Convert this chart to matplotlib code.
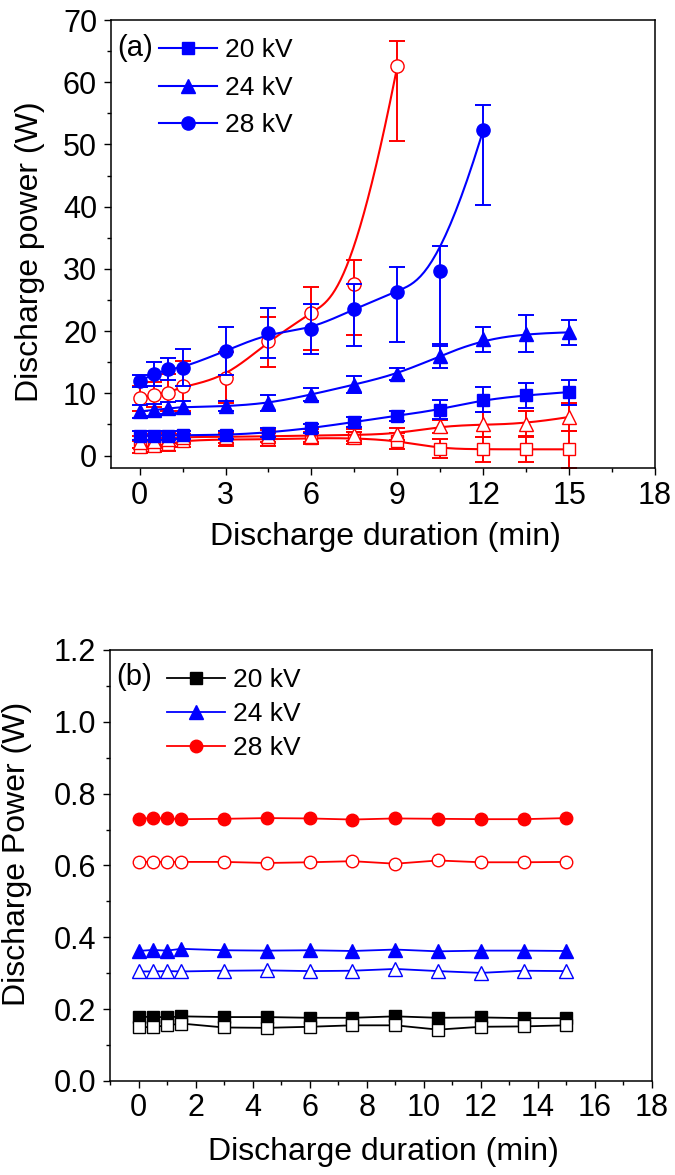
import numpy as np
import matplotlib
matplotlib.use("Agg")
import matplotlib.pyplot as plt
from matplotlib.lines import Line2D
from matplotlib.ticker import MultipleLocator, FormatStrFormatter

plt.rcParams['font.family'] = ['Liberation Sans', 'DejaVu Sans']

# ---------------- data: panel (a) ----------------
t_a = [0, 0.5, 1, 1.5, 3, 4.5, 6, 7.5, 9, 10.5, 12, 13.5, 15]
t_a_28 = [0, 0.5, 1, 1.5, 3, 4.5, 6, 7.5, 9, 10.5, 12]
t_a_28o = [0, 0.5, 1, 1.5, 3, 4.5, 6, 7.5, 9]

a_20_fill = [3.2, 3.2, 3.2, 3.3, 3.3, 3.7, 4.4, 5.4, 6.4, 7.4, 9.0, 9.7, 10.2]
a_20_fill_err = [0.7, 0.7, 0.7, 0.7, 0.7, 0.7, 0.7, 0.8, 0.8, 1.5, 2.0, 2.0, 2.0]
a_24_fill = [7.1, 7.3, 7.6, 7.8, 7.9, 8.4, 9.8, 11.4, 13.1, 16.0, 18.7, 19.6, 19.8]
a_24_fill_err = [1.0, 1.0, 1.0, 1.0, 0.8, 1.3, 1.0, 1.4, 1.0, 2.0, 2.0, 3.0, 2.0]
a_28_fill = [12.0, 13.1, 13.9, 14.1, 16.8, 19.7, 20.3, 23.6, 26.3, 29.6, 52.3]
a_28_fill_lo = [1.0, 2.0, 1.8, 3.0, 3.9, 4.0, 4.0, 6.0, 8.0, 12.0, 12.0]
a_28_fill_hi = [1.0, 2.0, 1.8, 3.0, 3.9, 4.0, 4.0, 4.0, 4.0, 4.0, 4.0]

a_20_open = [1.4, 1.5, 1.8, 2.4, 2.6, 2.6, 2.8, 2.8, 2.4, 1.1, 1.0, 1.0, 1.0]
a_20_open_err = [1.0, 1.0, 1.0, 1.0, 1.0, 1.0, 1.0, 1.0, 1.3, 1.5, 2.0, 2.0, 3.0]
a_24_open = [2.2, 2.4, 2.6, 3.0, 3.0, 3.1, 3.2, 3.3, 3.5, 4.7, 5.0, 5.1, 6.2]
a_24_open_err = [1.0, 1.0, 1.0, 1.0, 1.0, 1.0, 1.0, 1.0, 1.0, 1.0, 2.0, 2.0, 2.2]
a_28_open = [9.2, 9.8, 10.1, 11.1, 12.5, 18.4, 22.9, 27.5, 62.6]
a_28_open_lo = [2.0, 2.0, 3.0, 4.0, 4.0, 4.2, 5.9, 8.1, 12.0]
a_28_open_hi = [2.0, 2.0, 3.0, 4.1, 4.2, 3.9, 4.2, 3.9, 4.0]

# ---------------- data: panel (b) ----------------
t_b = [0, 0.5, 1, 1.5, 3, 4.5, 6, 7.5, 9, 10.5, 12, 13.5, 15]
b_20_fill = [0.178, 0.179, 0.177, 0.180, 0.178, 0.178, 0.176, 0.176, 0.180, 0.176, 0.177, 0.175, 0.175]
b_20_open = [0.150, 0.150, 0.155, 0.160, 0.149, 0.148, 0.151, 0.155, 0.155, 0.143, 0.151, 0.152, 0.155]
b_24_fill = [0.362, 0.365, 0.363, 0.368, 0.364, 0.363, 0.364, 0.362, 0.366, 0.361, 0.363, 0.363, 0.362]
b_24_open = [0.305, 0.305, 0.306, 0.305, 0.307, 0.308, 0.306, 0.307, 0.312, 0.306, 0.301, 0.307, 0.306]
b_28_fill = [0.730, 0.732, 0.731, 0.729, 0.730, 0.732, 0.731, 0.728, 0.731, 0.730, 0.729, 0.729, 0.732]
b_28_open = [0.610, 0.610, 0.610, 0.610, 0.610, 0.607, 0.609, 0.612, 0.605, 0.614, 0.609, 0.609, 0.610]

legend_labels = ['20 kV', '24 kV', '28 kV']
xticks_a = [0, 3, 6, 9, 12, 15, 18]
xticks_b = [0, 2, 4, 6, 8, 10, 12, 14, 16, 18]

BLUE = '#0000FF'
RED = '#FF0000'
BLACK = '#000000'


def bspline(x, y, n=300, k=3):
    """Clamped uniform B-spline using the data points as control points."""
    P = np.column_stack([x, y]).astype(float)
    m = len(P)
    k = min(k, m - 1)
    knots = np.concatenate([np.zeros(k), np.linspace(0, 1, m - k + 1), np.ones(k)])
    t = np.linspace(0, 1, n)
    N = np.zeros((n, len(knots) - 1))
    for i in range(len(knots) - 1):
        N[:, i] = (knots[i] <= t) & (t < knots[i + 1])
    N[t >= 1.0, m - 1] = 1.0
    for d in range(1, k + 1):
        Nn = np.zeros((n, len(knots) - 1 - d))
        for i in range(len(knots) - 1 - d):
            den1 = knots[i + d] - knots[i]
            den2 = knots[i + d + 1] - knots[i + 1]
            a = (t - knots[i]) / den1 * N[:, i] if den1 > 0 else 0
            b = (knots[i + d + 1] - t) / den2 * N[:, i + 1] if den2 > 0 else 0
            Nn[:, i] = a + b
        N = Nn
    C = N @ P
    return C[:, 0], C[:, 1]


fig = plt.figure(figsize=(6.75, 11.75), dpi=100)
W, H = 675.0, 1175.0


def style_axes(ax, tick_fs):
    for s in ax.spines.values():
        s.set_linewidth(1.1)
    ax.tick_params(which='both', direction='out', top=False, right=False,
                   labelsize=tick_fs, width=1.0)
    ax.tick_params(axis='x', which='both', pad=4)
    ax.tick_params(axis='y', which='both', pad=5)
    ax.tick_params(which='major', length=5)
    ax.tick_params(which='minor', length=3)


# ================= panel (a) =================
axa = fig.add_axes([111 / W, 1 - 468 / H, (655 - 111) / W, (468 - 20) / H])
axa.set_xlim(-1, 18)
axa.set_ylim(-2, 70)

series_a = [
    (t_a, a_20_fill, [a_20_fill_err, a_20_fill_err], 's', BLUE, BLUE, 8),
    (t_a, a_24_fill, [a_24_fill_err, a_24_fill_err], '^', BLUE, BLUE, 9.5),
    (t_a_28, a_28_fill, [a_28_fill_lo, a_28_fill_hi], 'o', BLUE, BLUE, 9.5),
    (t_a, a_20_open, [a_20_open_err, a_20_open_err], 's', RED, 'white', 8),
    (t_a, a_24_open, [a_24_open_err, a_24_open_err], '^', RED, 'white', 9.5),
    (t_a_28o, a_28_open, [a_28_open_lo, a_28_open_hi], 'o', RED, 'white', 9.5),
]
for order, (x, y, err, mk, col, face, ms) in enumerate(series_a[3:] + series_a[:3]):
    z = 2 + order
    axa.errorbar(x, y, yerr=err, fmt='none', ecolor=col, elinewidth=1.4,
                 capsize=5.5, capthick=1.4, zorder=z)
    bx, by = bspline(x, y)
    axa.plot(bx, by, '-', color=col, lw=1.5, zorder=z)
    axa.plot(x, y, linestyle='none', marker=mk, markersize=ms,
             markerfacecolor=face, markeredgecolor=col, markeredgewidth=1.0,
             zorder=z + 0.5)

axa.set_xticks(xticks_a)
axa.xaxis.set_minor_locator(MultipleLocator(1.5))
axa.yaxis.set_major_locator(MultipleLocator(10))
axa.yaxis.set_minor_locator(MultipleLocator(5))
style_axes(axa, 22)
axa.set_xlabel('Discharge duration (min)', fontsize=23)
axa.set_ylabel('Discharge power (W)', fontsize=23)
axa.xaxis.set_label_coords(0.5046, -0.1205)
axa.yaxis.set_label_coords(-0.121, 0.482)

handles_a = [Line2D([], [], color=BLUE, lw=1.5, marker=m, markersize=ms,
                    markerfacecolor=BLUE, markeredgecolor=BLUE)
             for m, ms in [('s', 8), ('^', 9.5), ('o', 9.5)]]
axa.legend(handles_a, legend_labels, loc='upper left',
           bbox_to_anchor=(0.088, 0.959), frameon=False, fontsize=19,
           handlelength=2.2, handletextpad=0.3, labelspacing=0.51,
           borderpad=0, borderaxespad=0)
axa.text(0.011, 0.937, '(a)', transform=axa.transAxes, fontsize=21,
         ha='left', va='center')

# ================= panel (b) =================
axb = fig.add_axes([110 / W, 1 - 1081 / H, (652 - 110) / W, (1081 - 650) / H])
axb.set_xlim(-1, 18)
axb.set_ylim(0, 1.2)

series_b = [
    (b_20_fill, 's', BLACK, BLACK, 8),
    (b_20_open, 's', BLACK, 'white', 8),
    (b_24_fill, '^', BLUE, BLUE, 9.5),
    (b_24_open, '^', BLUE, 'white', 9.5),
    (b_28_fill, 'o', RED, RED, 9),
    (b_28_open, 'o', RED, 'white', 9),
]
for y, mk, col, face, ms in series_b:
    axb.plot(t_b, y, '-', color=col, lw=1.3, marker=mk, markersize=ms,
             markerfacecolor=face, markeredgecolor=col, markeredgewidth=1.0)

axb.set_xticks(xticks_b)
axb.xaxis.set_minor_locator(MultipleLocator(1))
axb.yaxis.set_major_locator(MultipleLocator(0.2))
axb.yaxis.set_minor_locator(MultipleLocator(0.1))
axb.yaxis.set_major_formatter(FormatStrFormatter('%.1f'))
style_axes(axb, 22)
axb.set_xlabel('Discharge duration (min)', fontsize=23)
axb.set_ylabel('Discharge Power (W)', fontsize=23)
axb.xaxis.set_label_coords(0.504, -0.13)
axb.yaxis.set_label_coords(-0.144, 0.527)

handles_b = [Line2D([], [], color=c, lw=1.3, marker=m, markersize=ms,
                    markerfacecolor=c, markeredgecolor=c)
             for m, c, ms in [('s', BLACK, 8), ('^', BLUE, 9.5), ('o', RED, 9)]]
axb.legend(handles_b, legend_labels, loc='upper left',
           bbox_to_anchor=(0.105, 0.9587), frameon=False, fontsize=19,
           handlelength=2.2, handletextpad=0.3, labelspacing=0.39,
           borderpad=0, borderaxespad=0)
axb.text(0.012, 0.937, '(b)', transform=axb.transAxes, fontsize=21,
         ha='left', va='center')

fig.savefig('out.png', dpi=100)
